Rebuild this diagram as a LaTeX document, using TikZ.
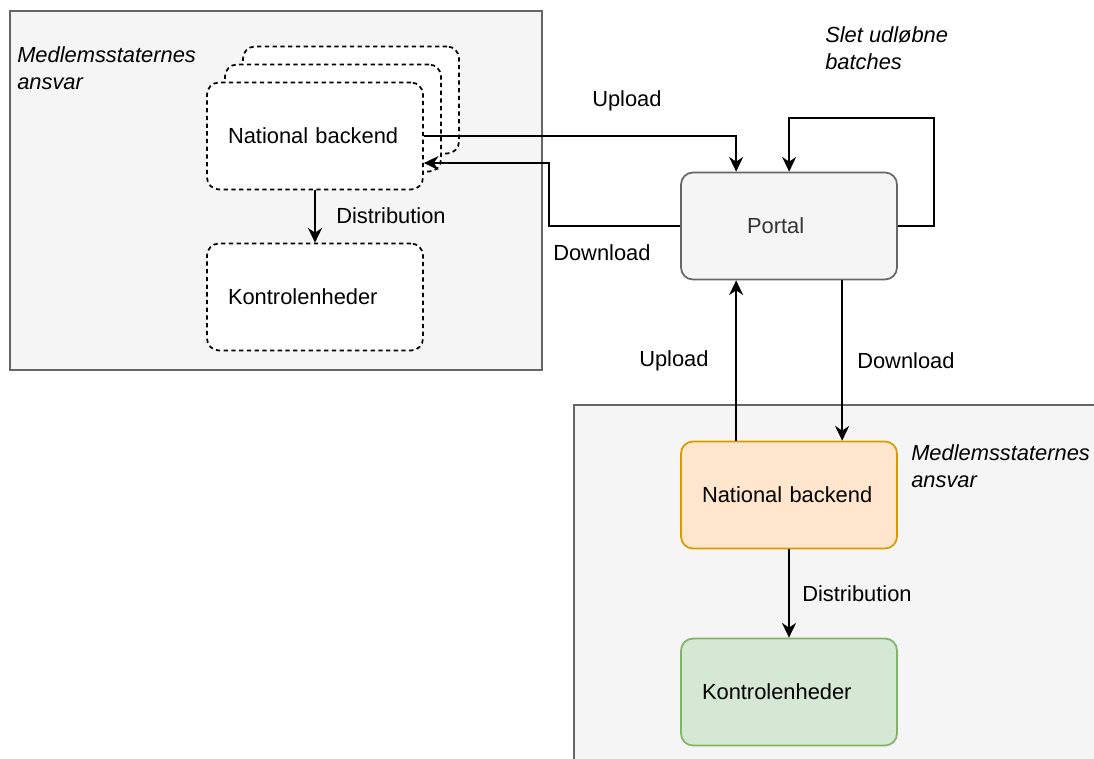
\documentclass[tikz,border=0pt]{standalone}
\usepackage{fontspec}
\setmainfont{Liberation Sans}
\usetikzlibrary{arrows.meta,calc}

\definecolor{areafill}{HTML}{F5F5F5}
\definecolor{areadraw}{HTML}{666666}
\definecolor{portaltext}{HTML}{333333}
\definecolor{orangefill}{HTML}{FFE6CC}
\definecolor{orangedraw}{HTML}{D79B00}
\definecolor{greenfill}{HTML}{D5E8D4}
\definecolor{greendraw}{HTML}{82B366}

\tikzset{
  box/.style={rounded corners=9pt, line width=1.3pt, minimum height=80.25pt,
    text width=130.5pt, inner xsep=15.75pt, align=left,
    font=\fontsize{16.4}{20}\selectfont},
  dashbox/.style={box, draw=black, fill=white, dash pattern=on 3.2pt off 2.6pt},
  flow/.style={line width=1.5pt, -{Stealth[length=11pt,width=10.5pt,inset=3.5pt]}},
  lbl/.style={inner sep=0pt, anchor=west, align=left,
    font=\fontsize{16.4}{20.25}\selectfont},
}

\begin{document}
\begin{tikzpicture}[x=0.75pt,y=0.75pt,yscale=-1,xscale=1]
\useasboundingbox (0,0) rectangle (1094,758);
\clip (0,0) rectangle (1094,758);

%Areas
\draw [fill=areafill, draw=areadraw, line width=1.3pt] (10,11) rectangle (542,370);
\draw [fill=areafill, draw=areadraw, line width=1.3pt] (574,405) rectangle (1110,780);

% Text Node
\node [lbl, font=\fontsize{16.4}{20.25}\selectfont\itshape] (msa1) at (17,68) {Medlemsstaternes\\ansvar};
\node [lbl, font=\fontsize{16.4}{20.25}\selectfont\itshape] (msa2) at (911,466) {Medlemsstaternes\\ansvar};
\node [lbl, font=\fontsize{16.4}{20.25}\selectfont\itshape] (slet) at (825,48) {Slet udløbne\\batches};

%Stacked national backends
\node [dashbox] (nbback) at (351,100) {};
\node [dashbox] (nbmid) at (333,118) {};
\node [dashbox] (nb1) at (315,136) {National backend};
\node [dashbox] (ke1) at (315,297) {Kontrolenheder};

%Portal
\node [box, draw=areadraw, fill=areafill, text=portaltext, inner xsep=49.5pt, text width=63pt] (portal) at (789,226) {Portal};

%Lower national backend
\node [box, draw=orangedraw, fill=orangefill] (nb2) at (789,495) {National backend};
\node [box, draw=greendraw, fill=greenfill] (ke2) at (789,692) {Kontrolenheder};

%Connectors
\draw [flow] (nb1.east) -| ($(portal.north west)+(56,0)$);
\draw [flow] (portal.west) -- ++(-131,0) |- ($(nb1.east)+(0,27)$);
\draw [flow] (portal.east) -- ++(36,0) -- ++(0,-108) -| ($(portal.north west)+(109,0)$);
\draw [flow] (nb1.south) -- (ke1.north);
\draw [flow] ($(nb2.north west)+(56,0)$) -- ($(portal.south west)+(56,0)$);
\draw [flow] ($(portal.south west)+(162,0)$) -- ($(nb2.north west)+(162,0)$);
\draw [flow] (nb2.south) -- (ke2.north);

% Text Node
\node [lbl] (up1) at (592,101) {Upload};
\node [lbl] (down1) at (553,253) {Download};
\node [lbl] (dist1) at (336,216) {Distribution};
\node [lbl] (up2) at (639,361) {Upload};
\node [lbl] (down2) at (857,361) {Download};
\node [lbl] (dist2) at (802,594) {Distribution};

\end{tikzpicture}
\end{document}
